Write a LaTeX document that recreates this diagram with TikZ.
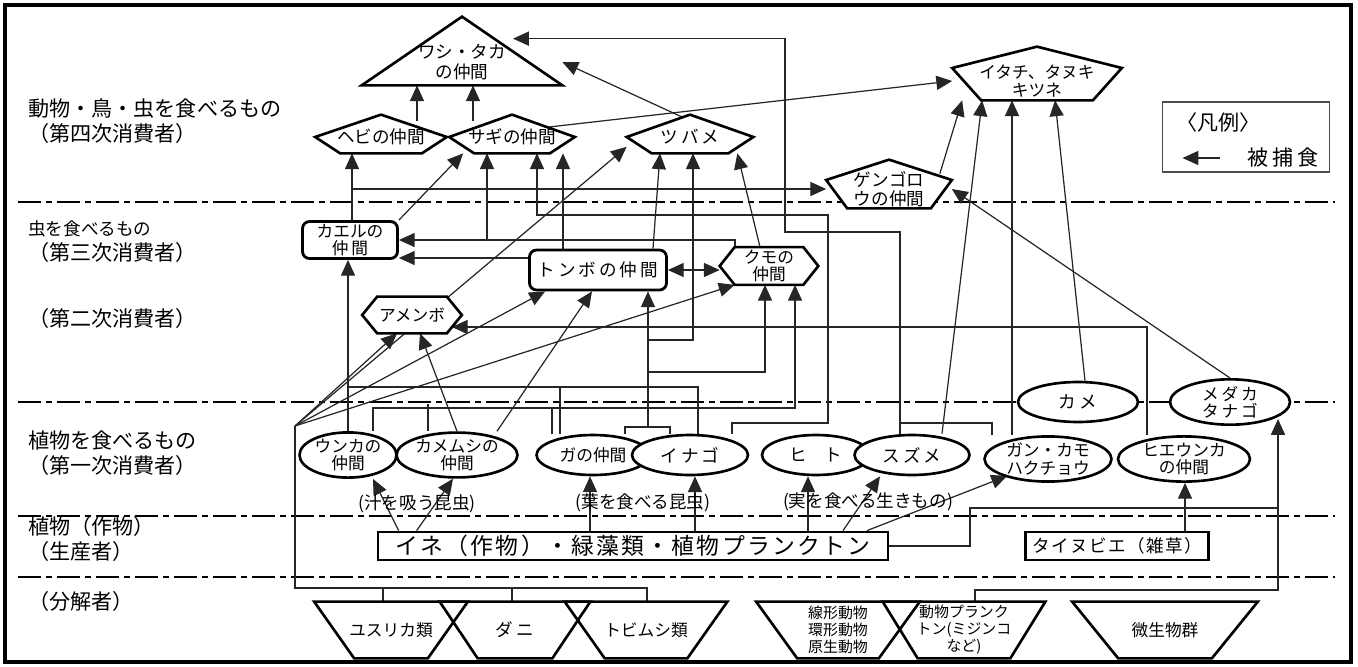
\documentclass[tikz,border=0pt]{standalone}
\usepackage{fontspec}
\setmainfont{Noto Sans CJK JP}
\usetikzlibrary{shapes.geometric, arrows.meta, calc}
\pgfdeclarelayer{background}
\pgfdeclarelayer{mid}
\pgfsetlayers{background,mid,main}

\tikzstyle{shapetext} = [rectangle, inner sep=0pt, align=center, font=\fontsize{10}{10.5}\selectfont]
\tikzstyle{ovalnode} = [ellipse, draw=black, line width=1.5pt, fill=white, inner sep=0pt, align=center, font=\fontsize{9.5}{9.8}\selectfont]
\tikzstyle{roundnode} = [rectangle, rounded corners=4pt, draw=black, line width=1.6pt, fill=white, inner sep=0pt, align=center, font=\fontsize{9.5}{9.8}\selectfont]
\tikzstyle{boxnode} = [rectangle, draw=black, line width=1.6pt, fill=white, inner sep=0pt]
\tikzstyle{outline} = [line width=1.5pt, fill=white, line join=miter]
\tikzstyle{lvl} = [inner sep=0pt, align=left, font=\fontsize{12}{14.2}\selectfont]
\tikzstyle{note} = [inner sep=0pt, font=\fontsize{10}{12}\selectfont]
\tikzstyle{rowline} = [line width=1.3pt, dash pattern=on 0.46cm off 0.1cm on 0.12cm off 0.1cm]
\tikzstyle{conn} = [line width=0.7pt, black!85]
\tikzstyle{arrow} = [conn, -{Triangle[length=9pt,width=8pt]}]
\tikzstyle{twoway} = [conn, {Triangle[length=9pt,width=8pt]}-{Triangle[length=9pt,width=8pt]}]

% outlines drawn round the named text nodes
\newcommand{\pentline}[4]{\begin{pgfonlayer}{mid}\draw[outline] ([yshift=#4]#1.west) -- ([yshift=#3]#1.north) -- ([yshift=#4]#1.east) -- ([xshift=-#2]#1.south east) -- ([xshift=#2]#1.south west) -- cycle;\end{pgfonlayer}}
\newcommand{\hexline}[2]{\begin{pgfonlayer}{mid}\draw[outline] (#1.west) -- ([xshift=#2]#1.north west) -- ([xshift=-#2]#1.north east) -- (#1.east) -- ([xshift=-#2]#1.south east) -- ([xshift=#2]#1.south west) -- cycle;\end{pgfonlayer}}
\newcommand{\trapline}[2]{\begin{pgfonlayer}{mid}\draw[outline, fill=none] (#1.north west) -- (#1.north east) -- ([xshift=-#2]#1.south east) -- ([xshift=#2]#1.south west) -- cycle;\end{pgfonlayer}}

\begin{document}
\begin{tikzpicture}[x=0.02cm, y=-0.02cm]
\useasboundingbox (0,0) rectangle (1358,666);
\draw[line width=2pt] (5,5) rectangle (1351,662);

% level labels
\node (lv4) [lvl, anchor=west] at (28,121) {動物・鳥・虫を食べるもの\\（第四次消費者）};
\node (lv3) [lvl, anchor=west] at (28,242) {{\fontsize{10}{12}\selectfont 虫を食べるもの}\\（第三次消費者）};
\node (lv2) [lvl, anchor=west] at (28,318) {（第二次消費者）};
\node (lv1) [lvl, anchor=west] at (28,453) {植物を食べるもの\\（第一次消費者）};
\node (lv0) [lvl, anchor=west] at (28,539) {植物（作物）\\（生産者）};
\node (lvd) [lvl, anchor=west] at (28,601) {（分解者）};

% top consumers
\node (wasi) [shapetext, font=\fontsize{10}{11}\selectfont, minimum width=4cm, minimum height=0.92cm] at (462,62) {ワシ・タカ\\の仲間};
\node (hebi) [shapetext, minimum width=2.62cm, minimum height=0.64cm] at (381,137) {ヘビの仲間};
\node (sagi) [shapetext, minimum width=2.5cm, minimum height=0.64cm] at (512,137) {サギの仲間};
\node (tsubame) [shapetext, minimum width=2.52cm, minimum height=0.64cm] at (690,137) {ツ\,バ\,メ};
\node (itachi) [shapetext, font=\fontsize{9.5}{10}\selectfont, minimum width=3.38cm, minimum height=0.76cm] at (1037,81) {イタチ、タヌキ\\キツネ};
\node (gengorou) [shapetext, minimum width=2.5cm, minimum height=0.76cm] at (889,189) {ゲンゴロ\\ウの仲間};
\node (kaeru) [roundnode, minimum width=1.9cm, minimum height=0.74cm] at (350,240) {カエルの\\仲\,間};
\node (tonbo) [roundnode, font=\fontsize{10}{11}\selectfont, minimum width=2.74cm, minimum height=0.8cm] at (598,270) {ト\,ン\,ボ\,の\,仲\,間};
\node (ameb) [shapetext, font=\fontsize{9.5}{10}\selectfont, minimum width=1.98cm, minimum height=0.72cm] at (412,315) {アメンボ};
\node (kumo) [shapetext, font=\fontsize{9.5}{10}\selectfont, minimum width=1.96cm, minimum height=0.74cm] at (769,266) {クモの\\仲間};

% first consumers
\node (unka) [ovalnode, minimum width=1.94cm, minimum height=0.8cm] at (348,455) {ウンカの\\仲間};
\node (kamemushi) [ovalnode, minimum width=2.42cm, minimum height=0.8cm] at (457,455) {カメムシの\\仲間};
\node (ga) [ovalnode, minimum width=2.26cm, minimum height=0.8cm] at (593,455) {ガの仲間};
\node (inago) [ovalnode, font=\fontsize{10}{11}\selectfont, minimum width=2.32cm, minimum height=0.8cm] at (690,455) {イ\,ナ\,ゴ};
\node (hito) [ovalnode, font=\fontsize{10}{11}\selectfont, minimum width=2.16cm, minimum height=0.8cm] at (816,455) {ヒ　ト};
\node (suzume) [ovalnode, font=\fontsize{10}{11}\selectfont, minimum width=2.3cm, minimum height=0.8cm] at (912,455) {ス\,ズ\,メ};
\node (gankamo) [ovalnode, minimum width=2.54cm, minimum height=0.76cm] at (1048,459) {ガン・カモ\\ハクチョウ};
\node (hieunka) [ovalnode, minimum width=2.64cm, minimum height=0.76cm] at (1184,459) {ヒエウンカ\\の仲間};
\node (kame) [ovalnode, font=\fontsize{10}{11}\selectfont, minimum width=2.4cm, minimum height=0.8cm] at (1078,402) {カ\,メ};
\node (medaka) [ovalnode, minimum width=2.4cm, minimum height=0.8cm] at (1230,402) {メ\,ダ\,カ\\タ\,ナ\,ゴ};

% producers
\node (ine) [boxnode, font=\fontsize{13}{14}\selectfont\addfontfeature{LetterSpace=10}, minimum width=10.2cm, minimum height=0.56cm] at (633,546) {イネ（作物）・緑藻類・植物プランクトン};
\node (taibie) [boxnode, font=\fontsize{10}{11}\selectfont\addfontfeature{LetterSpace=8}, minimum width=3.66cm, minimum height=0.56cm] at (1117,546) {タイヌビエ（雑草）};

% decomposers
\node (yusurika) [shapetext, font=\fontsize{9.5}{10}\selectfont, minimum width=3.06cm, minimum height=1.12cm] at (391,630) {ユスリカ類};
\node (dani) [shapetext, minimum width=3cm, minimum height=1.12cm] at (515,630) {ダ\,ニ};
\node (tobimushi) [shapetext, font=\fontsize{9.5}{10}\selectfont, minimum width=3.24cm, minimum height=1.12cm] at (646,630) {トビムシ類};
\node (senkei) [shapetext, font=\fontsize{8.5}{9.6}\selectfont, minimum width=3.26cm, minimum height=1.12cm] at (838,630) {線形動物\\環形動物\\原生動物};
\node (doupura) [shapetext, font=\fontsize{8.5}{9.6}\selectfont, minimum width=3.24cm, minimum height=1.12cm] at (964,630) {動物プランク\\トン(ミジンコ\\など)};
\node (biseibutsu) [shapetext, font=\fontsize{9.5}{10}\selectfont, minimum width=3.7cm, minimum height=1.12cm] at (1165,630) {微生物群};

% group notes
\node (shiru) [note] at (417,504) {(汁を吸う昆虫)};
\node (ha) [note] at (643,503) {(葉を食べる昆虫)};
\node (mi) [note] at (868,502) {(実を食べる生きもの)};

% legend
\node (legend) [draw=black!70, line width=0.9pt, minimum width=3.34cm, minimum height=1.4cm] at (1246,137) {};
\node (hanrei) [lvl, anchor=west] at (1176,122) {〈凡例〉};
\node (hoshoku) [lvl] at (1283,158) {被\,捕\,食};
\draw[arrow] ([xshift=-0.56cm]hoshoku.west) -- ++(-37,0);

% outlines
\begin{pgfonlayer}{mid}
\draw[outline] (wasi.south west) -- ([yshift=0.44cm]wasi.north) -- (wasi.south east) -- cycle;
\end{pgfonlayer}
\pentline{hebi}{0.5cm}{0.12cm}{0cm}
\pentline{sagi}{0.5cm}{0.12cm}{0cm}
\pentline{tsubame}{0.5cm}{0.12cm}{0cm}
\pentline{itachi}{0.58cm}{0.3cm}{0.26cm}
\pentline{gengorou}{0.42cm}{0.2cm}{0.18cm}
\hexline{ameb}{0.3cm}
\hexline{kumo}{0.3cm}
\trapline{yusurika}{0.8cm}
\trapline{dani}{0.76cm}
\trapline{tobimushi}{0.8cm}
\trapline{senkei}{0.82cm}
\trapline{doupura}{0.7cm}
\trapline{biseibutsu}{0.92cm}

\coordinate (leafj) at (648,427);
\coordinate (decoj) at (295,426);

\begin{pgfonlayer}{background}
\draw[rowline] (18,202) -- (1335,202);
\draw[rowline] (18,402) -- (1335,402);
\draw[rowline] (18,516) -- (1335,516);
\draw[rowline] (18,577) -- (1335,577);

% to the top
\draw[arrow] (hebi.north -| 417,0) -- (wasi.south -| 417,0);
\draw[arrow] (sagi.north -| 473,0) -- (wasi.south -| 473,0);
\draw[arrow] (tsubame.north) -- (wasi.east);
\draw[arrow] ($(sagi.north)!0.45!(sagi.east)$) -- (itachi.west);
\draw[arrow] (suzume.north -| 900,0) |- (785,232) |- (wasi.north -| 513,0);
\draw[conn] (gankamo.north -| 992,0) |- (900,423);
\draw[arrow] (kaeru.north -| 352,0) -- (hebi.south -| 352,0);
\draw[arrow] (kaeru.north -| 352,0) |- (gengorou.west);
\draw[arrow] (kaeru.north east) -- ([xshift=0.28cm]sagi.south west);
\draw[arrow] (tonbo.north -| 563,0) -- (sagi.south -| 563,0);
\draw[arrow] (kumo.north -| 735,0) |- (kaeru.east);
\draw[arrow] (kaeru.east -| 487,0) -- (sagi.south -| 487,0);
\draw[arrow] (tonbo.west |- 0,258) -- (kaeru.east |- 0,258);
\draw[arrow] (inago.north -| 732,0) |- (828,423) |- (537,215) -- (sagi.south -| 537,0);
\draw[conn] (ga.north -| 625,0) |- (leafj) -| (inago.north -| 670,0);
\draw[arrow] (leafj) -- (tonbo.south -| 648,0);
\draw[arrow] (leafj |- 0,340) -| (tsubame.south -| 693,0);
\draw[arrow] (leafj |- 0,372) -| (kumo.south -| 765,0);
\draw[twoway] (tonbo.east) -- (kumo.west |- tonbo.east);
\draw[arrow] (tonbo.north -| 653,0) -- ([xshift=-0.6cm]tsubame.south);
\draw[arrow] (kumo.north -| 760,0) -- ([xshift=-0.32cm]tsubame.south east);

% decomposers
\draw[conn] (decoj) |- (647,588) -- (tobimushi.north -| 647,0);
\draw[conn] (yusurika.north -| 383,0) -- ++(0,-14);
\draw[conn] (dani.north -| 512,0) -- ++(0,-14);
\draw[arrow] (decoj) -- ([xshift=-0.3cm]ameb.south);
\draw[arrow] (decoj) -- ([xshift=0.34cm]tonbo.south west);
\draw[arrow] (decoj) -- ([xshift=0.3cm]kumo.south west);
\draw[arrow] (decoj) -- ($(tsubame.west)!0.6!(tsubame.south west)$);

% first consumers upward
\draw[arrow] (unka.north -| 348,0) -- (kaeru.south -| 348,0);
\draw[conn] (inago.north -| 698,0) |- (348,387);
\draw[conn] (ga.north -| 560,0) -- ++(0,-48);
\draw[arrow] (unka.north -| 373,0) |- (795,408) -- (kumo.south -| 795,0);
\draw[conn] (kamemushi.north -| 428,0) -- ++(0,-27);
\draw[conn] (ga.north -| 552,0) -- ++(0,-27);
\draw[arrow] (kamemushi.north) -- ([xshift=0.16cm]ameb.south);
\draw[arrow] ([xshift=0.8cm]kamemushi.north) -- ([xshift=-0.12cm]tonbo.south);
\draw[arrow] (hieunka.north -| 1147,0) |- ($(ameb.east)+(-10,12)$);
\draw[arrow] (medaka.north) -- (gengorou.east);
\draw[arrow] ($(gengorou.north east)+(-12,4)$) -- ([xshift=0.2cm]itachi.south west);
\draw[arrow] ([xshift=0.6cm]suzume.north) -- ([xshift=0.6cm]itachi.south west);
\draw[arrow] (gankamo.north -| 1012,0) -- (itachi.south -| 1012,0);
\draw[arrow] ([xshift=0.14cm]kame.north) -- ([xshift=0.36cm]itachi.south);

% producers upward
\draw[arrow] ([xshift=0.44cm]ine.north west) -- ([xshift=0.5cm]unka.south);
\draw[arrow] ([xshift=0.8cm]ine.north west) -- ([xshift=-0.08cm]kamemushi.south);
\draw[arrow] (ine.north -| 590,0) -- (ga.south -| 590,0);
\draw[arrow] (ine.north -| 695,0) -- (inago.south -| 695,0);
\draw[arrow] (ine.north -| 808,0) -- (hito.south -| 808,0);
\draw[arrow] (ine.north -| 843,0) -- ([xshift=-0.64cm]suzume.south);
\draw[arrow] (ine.north -| 867,0) -- ([xshift=0.1cm]gankamo.south west);
\draw[conn] (ine.east) -| (970,508) -- (1278,508);
\draw[arrow] (doupura.north -| 975,0) |- (1278,590) -- ($(medaka.south -| 1278,0)+(0,-7)$);
\draw[arrow] (taibie.north -| 1185,0) -- (hieunka.south -| 1185,0);
\end{pgfonlayer}
\end{tikzpicture}
\end{document}
